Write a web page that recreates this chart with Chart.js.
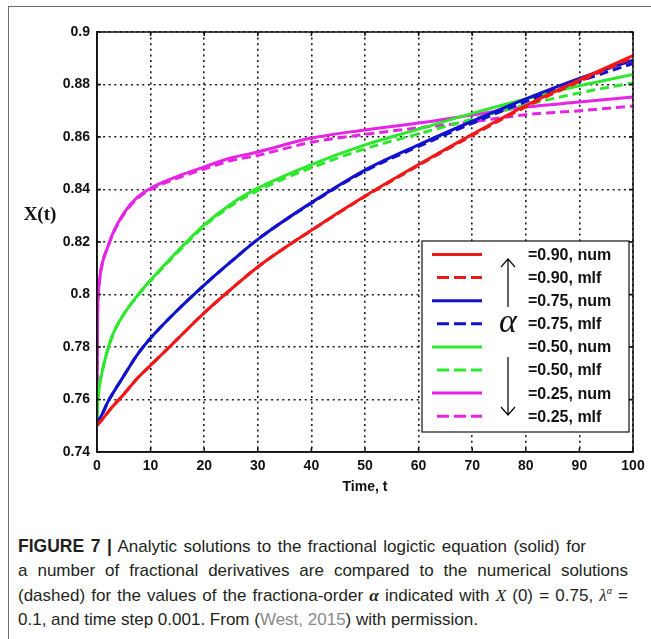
<!DOCTYPE html>
<html>
<head>
<meta charset="utf-8">
<script src="https://cdn.jsdelivr.net/npm/chart.js@4.4.1/dist/chart.umd.min.js"></script>
<style>
  body { margin: 0; background: #fff; }
  #page { position: relative; width: 651px; height: 639px; overflow: hidden; background: #fff; }
  #frame { position: absolute; left: 8px; top: 6px; width: 700px; height: 700px;
           border-left: 1.5px solid #6e6e6e; border-top: 1.5px solid #6e6e6e; }
  #fig { position: absolute; left: 0; top: 0; }
  #caption { position: absolute; left: 18px; top: 534px; font-family: "Liberation Sans", Arial, sans-serif;
             font-size: 17px; color: #231f20; }
  #caption div { height: 24.6px; line-height: 24.6px; white-space: nowrap; text-align: justify; text-align-last: justify; }
  #caption div.last { text-align: left; text-align-last: left; }
  #caption b { font-size: 17.5px; }
  #caption .m { font-family: "Liberation Serif", "Times New Roman", serif; font-style: italic; }
  #caption sup { font-size: 10px; line-height: 0; }
  #caption .ref { color: #8a8a8a; }
</style>
</head>
<body>
<div id="page">
  <div id="frame"></div>
  <canvas id="fig" width="651" height="500"></canvas>
  <div id="caption">
    <div style="width:568px"><b>FIGURE 7 |</b> Analytic solutions to the fractional logictic equation (solid) for</div>
    <div style="width:610px">a number of fractional derivatives are compared to the numerical solutions</div>
    <div style="width:610px">(dashed) for the values of the fractiona-order <span class="m"><b>α</b></span> indicated with <span class="m">X</span> (0) = 0.75, <span class="m">λ<sup>α</sup></span> =</div>
    <div class="last">0.1, and time step 0.001. From (<span class="ref">West, 2015</span>) with permission.</div>
  </div>
</div>
<script>
// time samples (denser near t = 0 where the low-order curves climb fast)
const times = [0, 0.1, 0.25, 0.5, 1, 2, 3, 5, 7.5, 10, 15, 20, 25, 30, 40, 50, 60, 70, 80, 90, 100];

// alpha = 0.90
const num090 = [0.75, 0.7503, 0.7507, 0.7513, 0.7525, 0.755, 0.7575, 0.762, 0.768, 0.773, 0.783, 0.793, 0.802, 0.8105, 0.8245, 0.8375, 0.8495, 0.861, 0.872, 0.8818, 0.891];
const mlf090 = [0.75, 0.7503, 0.7507, 0.7513, 0.7525, 0.755, 0.7575, 0.762, 0.768, 0.773, 0.783, 0.793, 0.802, 0.8105, 0.8244, 0.8373, 0.8492, 0.8606, 0.8715, 0.8812, 0.8903];
// alpha = 0.75
const num075 = [0.75, 0.7508, 0.7515, 0.7527, 0.7545, 0.759, 0.7625, 0.769, 0.777, 0.7834, 0.794, 0.8036, 0.8125, 0.821, 0.835, 0.8474, 0.857, 0.866, 0.8745, 0.8823, 0.8893];
const mlf075 = [0.75, 0.7508, 0.7515, 0.7527, 0.7545, 0.759, 0.7625, 0.769, 0.777, 0.7834, 0.794, 0.8036, 0.8125, 0.821, 0.8348, 0.847, 0.8564, 0.8652, 0.8735, 0.8812, 0.888];
// alpha = 0.50
const num050 = [0.75, 0.758, 0.762, 0.766, 0.771, 0.779, 0.785, 0.7925, 0.7995, 0.8055, 0.8165, 0.8265, 0.8345, 0.8405, 0.8495, 0.857, 0.863, 0.869, 0.8745, 0.8795, 0.8838];
const mlf050 = [0.75, 0.758, 0.762, 0.766, 0.771, 0.779, 0.785, 0.7925, 0.7993, 0.8052, 0.816, 0.826, 0.8338, 0.8396, 0.8483, 0.8555, 0.8612, 0.8668, 0.8722, 0.8768, 0.8806];
// alpha = 0.25
const num025 = [0.75, 0.79, 0.80, 0.806, 0.812, 0.818, 0.8235, 0.831, 0.837, 0.8405, 0.845, 0.8486, 0.852, 0.8543, 0.8596, 0.8627, 0.8653, 0.8684, 0.8714, 0.8733, 0.8752];
const mlf025 = [0.75, 0.79, 0.80, 0.806, 0.812, 0.818, 0.8233, 0.8305, 0.8365, 0.84, 0.8443, 0.8478, 0.851, 0.853, 0.858, 0.861, 0.8635, 0.8658, 0.8685, 0.870, 0.8718];

const seriesLabels = ['=0.90, num', '=0.90, mlf', '=0.75, num', '=0.75, mlf', '=0.50, num', '=0.50, mlf', '=0.25, num', '=0.25, mlf'];
const seriesValues = [num090, mlf090, num075, mlf075, num050, mlf050, num025, mlf025];
const seriesColors = ['#f01818', '#f01818', '#1212cc', '#1212cc', '#2de82d', '#2de82d', '#e524e5', '#e524e5'];

const dashPattern = [9, 5];
const tickFont = { family: '"Liberation Sans", Arial, sans-serif', weight: 'bold', size: 14 };

const toPoints = function(values) {
  return times.map((t, i) => ({ x: t, y: values[i] }));
}

const datasets = seriesValues.map((values, i) => ({
  label: seriesLabels[i],
  data: toPoints(values),
  borderColor: seriesColors[i],
  borderWidth: 3,
  borderDash: i % 2 ? dashPattern : [],
  pointRadius: 0,
  cubicInterpolationMode: 'monotone',
  fill: false
}));

// box around the axes, inward tick marks, and the y label
const plotFrame = {
  id: 'plotFrame',
  afterDraw(chart) {
    const { ctx, chartArea: a, scales } = chart;
    ctx.save();
    ctx.strokeStyle = '#111';
    ctx.lineWidth = 1.5;
    ctx.strokeRect(a.left, a.top, a.right - a.left, a.bottom - a.top);
    ctx.beginPath();
    scales.x.ticks.forEach((t) => {
      const x = scales.x.getPixelForValue(t.value);
      ctx.moveTo(x, a.bottom); ctx.lineTo(x, a.bottom - 4);
      ctx.moveTo(x, a.top); ctx.lineTo(x, a.top + 4);
    });
    scales.y.ticks.forEach((t) => {
      const y = scales.y.getPixelForValue(t.value);
      ctx.moveTo(a.left, y); ctx.lineTo(a.left + 4, y);
      ctx.moveTo(a.right, y); ctx.lineTo(a.right - 4, y);
    });
    ctx.stroke();
    ctx.font = 'bold 19px "Liberation Serif", "Times New Roman", serif';
    ctx.fillStyle = '#111';
    ctx.textAlign = 'center';
    ctx.textBaseline = 'middle';
    ctx.fillText('X(t)', a.left - 57, a.top + 183);
    ctx.restore();
  }
};

// matlab style legend with the alpha arrows
const alphaLegend = {
  id: 'alphaLegend',
  afterDraw(chart) {
    const { ctx, chartArea: a } = chart;
    const left = a.right - 211, top = a.top + 209, w = 207, h = 191;
    ctx.save();
    ctx.fillStyle = '#fff';
    ctx.fillRect(left, top, w, h);
    ctx.strokeStyle = '#111';
    ctx.lineWidth = 1.2;
    ctx.strokeRect(left, top, w, h);

    ctx.font = 'bold 16px "Liberation Sans", Arial, sans-serif';
    ctx.textBaseline = 'middle';
    chart.data.datasets.forEach((ds, i) => {
      const y = top + 13.5 + i * 23.1;
      ctx.strokeStyle = ds.borderColor;
      ctx.lineWidth = 3;
      ctx.setLineDash(ds.borderDash.length ? [12, 5] : []);
      ctx.beginPath();
      ctx.moveTo(left + (ds.borderDash.length ? 15 : 10), y);
      ctx.lineTo(left + 60, y);
      ctx.stroke();
      ctx.fillStyle = '#111';
      ctx.fillText(ds.label, left + 106, y + 1);
    });
    ctx.setLineDash([]);

    // arrows either side of alpha
    const ax = left + 86;
    ctx.strokeStyle = '#111';
    ctx.lineWidth = 1.3;
    ctx.beginPath();
    ctx.moveTo(ax, top + 66); ctx.lineTo(ax, top + 18);
    ctx.moveTo(ax - 7, top + 26); ctx.lineTo(ax, top + 18); ctx.lineTo(ax + 7, top + 26);
    ctx.moveTo(ax, top + 116); ctx.lineTo(ax, top + 174);
    ctx.moveTo(ax - 7, top + 166); ctx.lineTo(ax, top + 174); ctx.lineTo(ax + 7, top + 166);
    ctx.stroke();

    ctx.font = 'italic 34px "Liberation Serif", "Times New Roman", serif';
    ctx.textAlign = 'center';
    ctx.fillStyle = '#111';
    ctx.fillText('α', ax, top + 82);
    ctx.restore();
  }
};

const chart = new Chart(document.getElementById('fig').getContext('2d'), {
  type: 'line',
  data: { datasets: datasets },
  options: {
    responsive: false,
    animation: false,
    layout: { padding: { left: 0, top: 32, right: 18, bottom: 0 } },
    plugins: { legend: { display: false }, tooltip: { enabled: false } },
    scales: {
      x: {
        type: 'linear',
        min: 0,
        max: 100,
        afterFit: (scale) => { scale.height = 48; },
        ticks: { stepSize: 10, font: tickFont, color: '#111', padding: 6, maxRotation: 0 },
        grid: { color: '#1a1a1a', lineWidth: 1.6, drawTicks: false },
        border: { color: '#111', width: 1.5, dash: [2, 3.6] },
        title: { display: true, text: 'Time, t', font: tickFont, color: '#111', padding: { top: 0, bottom: 4 } }
      },
      y: {
        min: 0.74,
        max: 0.9,
        afterFit: (scale) => { scale.width = 97; },
        ticks: {
          stepSize: 0.02,
          font: tickFont,
          color: '#111',
          padding: 7,
          callback: (v) => String(Number(v.toFixed(2)))
        },
        grid: { color: '#1a1a1a', lineWidth: 1.6, drawTicks: false },
        border: { color: '#111', width: 1.5, dash: [2, 3.6] }
      }
    }
  },
  plugins: [plotFrame, alphaLegend]
});
</script>
</body>
</html>
